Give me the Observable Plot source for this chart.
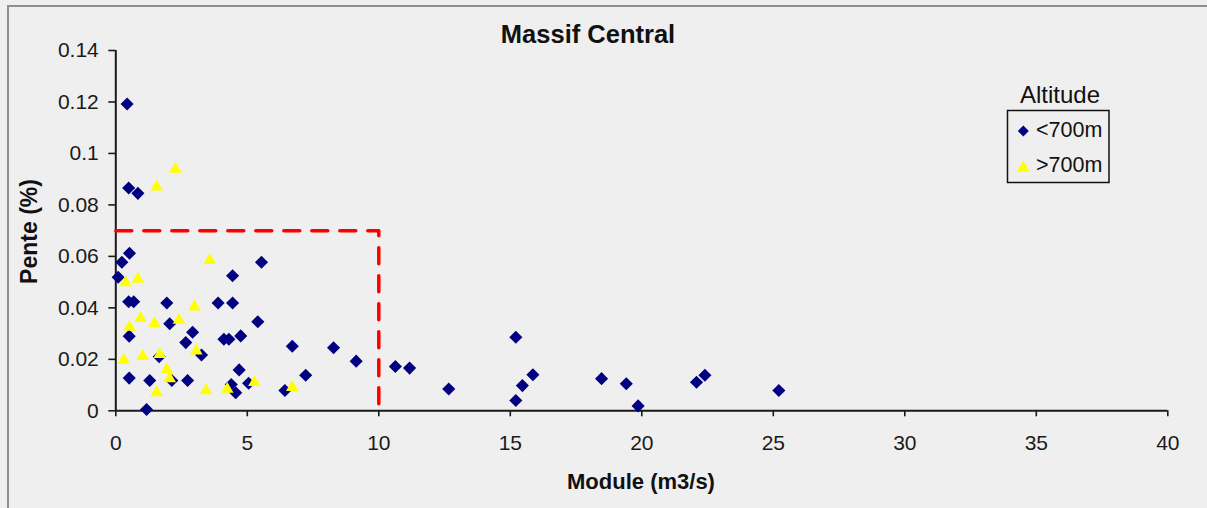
<!DOCTYPE html>
<html>
<head>
<meta charset="utf-8">
<script src="https://cdn.jsdelivr.net/npm/d3@7"></script>
<script src="https://cdn.jsdelivr.net/npm/@observablehq/plot@0.6"></script>
<style>
  html, body { margin: 0; padding: 0; background: #efefef; }
  #wrap { position: relative; width: 1207px; height: 508px; overflow: hidden; background: #efefef; }
  #frame { position: absolute; left: 7px; top: 5px; width: 1300px; height: 600px;
           border-left: 2px solid #8f8f8f; border-top: 2px solid #8f8f8f; }
  #chart { position: absolute; left: 0; top: 0; }
  #overlay { position: absolute; left: 0; top: 0; pointer-events: none; }
</style>
</head>
<body>
<div id="wrap">
  <div id="frame"></div>
  <div id="chart"></div>
  <svg id="overlay" width="1207" height="508" font-family="Liberation Sans, Arial, sans-serif">
    <text x="588" y="43" text-anchor="middle" font-weight="bold" font-size="25.5" fill="#111">Massif Central</text>
    <text x="641" y="489" text-anchor="middle" font-weight="bold" font-size="22" fill="#111">Module (m3/s)</text>
    <text transform="translate(37,231.5) rotate(-90)" text-anchor="middle" font-weight="bold" font-size="23" fill="#111">Pente (%)</text>
    <text x="1060" y="103" text-anchor="middle" font-size="24" fill="#111">Altitude</text>
    <rect x="1007.5" y="110.5" width="101.5" height="72" fill="none" stroke="#111" stroke-width="1.5"></rect>
    <path d="M1023.3,125.5 L1028.8,131 L1023.3,136.5 L1017.8,131 Z" fill="#000080"></path>
    <text x="1036" y="137" font-size="21.5" fill="#111">&lt;700m</text>
    <path d="M1023.3,160.5 L1029.5,171.5 L1017.1,171.5 Z" fill="#ffff00"></path>
    <text x="1036" y="172" font-size="21.5" fill="#111">&gt;700m</text>
  </svg>
</div>
<script>
// Tick values
const xTicks = [0, 5, 10, 15, 20, 25, 30, 35, 40];
const yTicks = [0, 0.02, 0.04, 0.06, 0.08, 0.1, 0.12, 0.14];

// Series "<700m" (diamonds): module (m3/s) and pente (%)
const lowModule = [0.43, 0.49, 0.84, 0.52, 0.23, 0.09, 5.54, 4.44, 0.49, 0.68,
  1.94, 3.89, 4.44, 2.05, 5.40, 0.51, 2.92, 2.66, 4.11, 4.30,
  4.75, 6.71, 1.65, 3.26, 4.69, 0.51, 1.29, 2.13, 2.73, 4.39,
  4.56, 5.05, 6.43, 1.17, 8.28, 9.14, 7.22, 10.63, 11.17, 12.66,
  15.21, 15.86, 15.46, 15.21, 18.47, 19.41, 19.86, 22.08, 22.40, 25.21];
const lowPente = [0.1192, 0.0866, 0.0845, 0.0612, 0.0577, 0.0519, 0.0577, 0.0525, 0.0424, 0.0424,
  0.0419, 0.0419, 0.0419, 0.0338, 0.0346, 0.0290, 0.0305, 0.0265, 0.0278, 0.0278,
  0.0291, 0.0251, 0.0210, 0.0217, 0.0159, 0.0127, 0.0118, 0.0118, 0.0118, 0.0102,
  0.0070, 0.0107, 0.0079, 0.0005, 0.0245, 0.0193, 0.0138, 0.0172, 0.0166, 0.0085,
  0.0286, 0.0140, 0.0098, 0.0040, 0.0125, 0.0105, 0.0019, 0.0111, 0.0138, 0.0079];

// Series ">700m" (triangles)
const highModule = [1.55, 2.27, 0.37, 0.84, 3.57, 2.99, 0.94, 0.52, 1.47, 2.40,
  0.30, 1.02, 1.67, 3.06, 1.94, 2.05, 1.55, 3.44, 4.24, 5.27, 6.71];
const highPente = [0.0870, 0.0939, 0.0498, 0.0512, 0.0585, 0.0404, 0.0359, 0.0325, 0.0339, 0.0352,
  0.0197, 0.0212, 0.0219, 0.0233, 0.0160, 0.0125, 0.0071, 0.0078, 0.0084, 0.0110, 0.0091];

// Red dashed reference outline
const refModule = [0, 10, 10];
const refPente = [0.07, 0.07, 0];

const low = lowModule.map((m, i) => ({module: m, pente: lowPente[i]}));
const high = highModule.map((m, i) => ({module: m, pente: highPente[i]}));
const ref = refModule.map((m, i) => ({module: m, pente: refPente[i]}));

const chart = Plot.plot({
  width: 1207,
  height: 508,
  marginLeft: 115.3,
  marginRight: 39.7,
  marginTop: 50,
  marginBottom: 97.7,
  x: {domain: [0, 40]},
  y: {domain: [0, 0.14]},
  style: {background: "transparent", fontFamily: "Liberation Sans, Arial, sans-serif", fontSize: "21px", color: "#1a1a1a"},
  marks: [
    Plot.axisX({ticks: xTicks, tickSize: 6, tickPadding: 18.5, label: null, strokeWidth: 1.6, tickFormat: d => String(d)}),
    Plot.axisY({ticks: yTicks, tickSize: 7, tickPadding: 10, label: null, strokeWidth: 1.6, tickFormat: d => String(d)}),
    Plot.ruleX([0], {y1: 0, y2: 0.14, stroke: "#1a1a1a", strokeWidth: 2}),
    Plot.ruleY([0], {x1: 0, x2: 40, stroke: "#1a1a1a", strokeWidth: 2}),
    Plot.line(ref, {x: "module", y: "pente", stroke: "#ff0000", strokeWidth: 3.5, strokeDasharray: "16,12"}),
    Plot.dot(low, {x: "module", y: "pente", symbol: "diamond2", r: 5.9, fill: "#000080"}),
    Plot.dot(high, {x: "module", y: "pente", symbol: "triangle2", r: 6, fill: "#ffff00"})
  ]
});
document.getElementById("chart").appendChild(chart);
</script>
</body>
</html>
